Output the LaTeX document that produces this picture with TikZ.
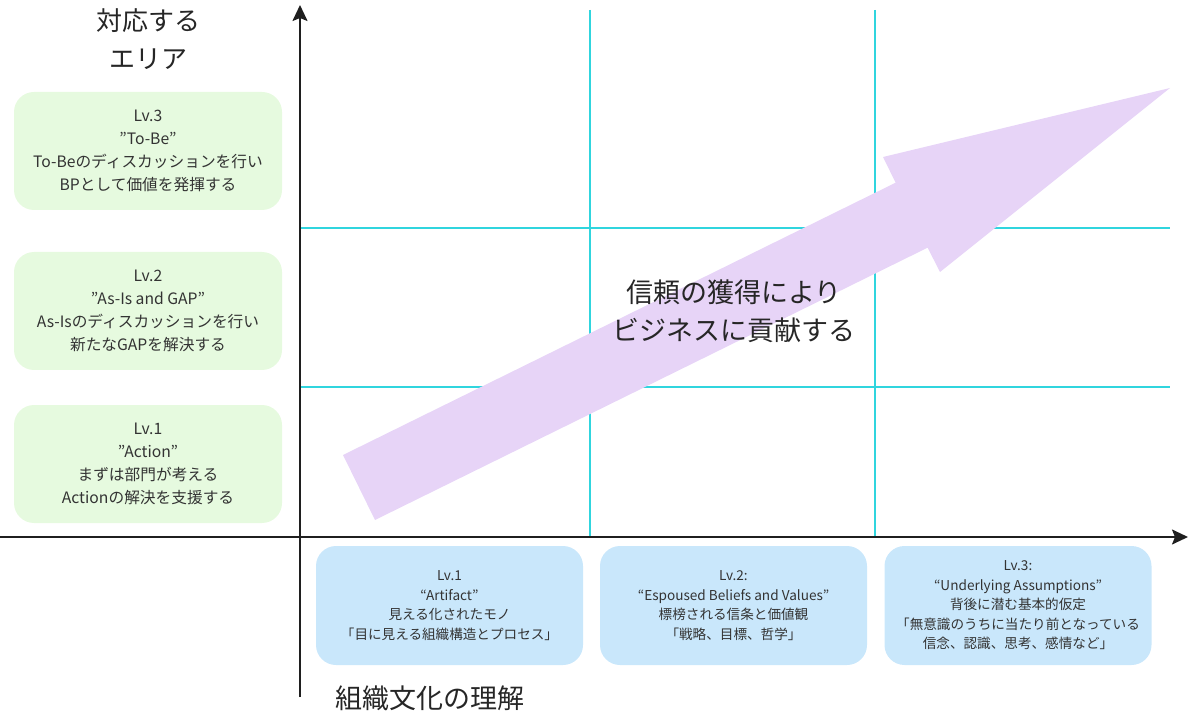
\documentclass[tikz,border=0pt]{standalone}
\usepackage{fontspec}
\setmainfont{Noto Sans CJK JP}
\usetikzlibrary{arrows.meta}
\definecolor{gridcyan}{HTML}{30D5DE}
\definecolor{greenbox}{HTML}{E6FADF}
\definecolor{bluebox}{HTML}{C9E7FB}
\definecolor{purplearrow}{HTML}{E7D4F7}
\definecolor{txt}{HTML}{333333}
\begin{document}
\begin{tikzpicture}[x=1pt,y=-1pt,
  axis/.style={line width=2pt,black!88,-{Stealth[length=16pt,width=15pt,inset=3pt]}},
  gridline/.style={line width=2pt,gridcyan},
  leftbox/.style={fill=greenbox,rounded corners=20pt,minimum width=268pt,minimum height=118pt,inner sep=0pt,align=center,text=txt,font=\fontsize{15.7}{23}\selectfont},
  bottombox/.style={fill=bluebox,rounded corners=20pt,minimum width=267pt,minimum height=119pt,inner sep=0pt,align=center,text=txt,font=\fontsize{13.6}{19.5}\selectfont},
  bigtext/.style={align=center,text=black!85,font=\fontsize{26}{38}\selectfont}]
\useasboundingbox (0,0) rectangle (1200,719);
% grid
\coordinate (g1t) at (590,10); \coordinate (g1b) at (590,537);
\coordinate (g2t) at (875,10); \coordinate (g2b) at (875,537);
\coordinate (h1l) at (300,228); \coordinate (h1r) at (1170,228);
\coordinate (h2l) at (300,387); \coordinate (h2r) at (1170,387);
\draw[gridline] (g1t) -- (g1b);
\draw[gridline] (g2t) -- (g2b);
\draw[gridline] (h1l) -- (h1r);
\draw[gridline] (h2l) -- (h2r);
% axes
\coordinate (yb) at (300,697); \coordinate (yt) at (300,5);
\coordinate (xl) at (0,537); \coordinate (xr) at (1188,537);
\draw[axis] (yb) -- (yt);
\draw[axis] (xl) -- (xr);
% big arrow
\fill[purplearrow] (343,455) -- (895.6,182.7) -- (883,157) -- (1170,88) -- (940,272) -- (927.6,247.7) -- (375,520) -- cycle;
% labels
\node[bigtext] (ylabel) at (148,39) {対応する\\エリア};
\node[bigtext,font=\fontsize{27}{38}\selectfont] (xlabel) at (430,698) {組織文化の理解};
\node[bigtext,font=\fontsize{27}{38}\selectfont] (center) at (734,311) {信頼の獲得により\\ビジネスに貢献する};
% left boxes
\node[leftbox] (l3) at (148,151) {Lv.3\\”To-Be”\\To-Beのディスカッションを行い\\BPとして価値を発揮する};
\node[leftbox] (l2) at (148,311) {Lv.2\\”As-Is and GAP”\\As-Isのディスカッションを行い\\新たなGAPを解決する};
\node[leftbox] (l1) at (148,464) {Lv.1\\”Action”\\まずは部門が考える\\Actionの解決を支援する};
% bottom boxes
\node[bottombox] (b1) at (449.5,605.5) {Lv.1\\“Artifact”\\見える化されたモノ\\「目に見える組織構造とプロセス」};
\node[bottombox] (b2) at (733.5,605.5) {Lv.2:\\“Espoused Beliefs and Values”\\標榜される信条と価値観\\「戦略、目標、哲学」};
\node[bottombox] (b3) at (1018,605.5) {Lv.3:\\“Underlying Assumptions”\\背後に潜む基本的仮定\\「無意識のうちに当たり前となっている\\信念、認識、思考、感情など」};
\end{tikzpicture}
\end{document}
